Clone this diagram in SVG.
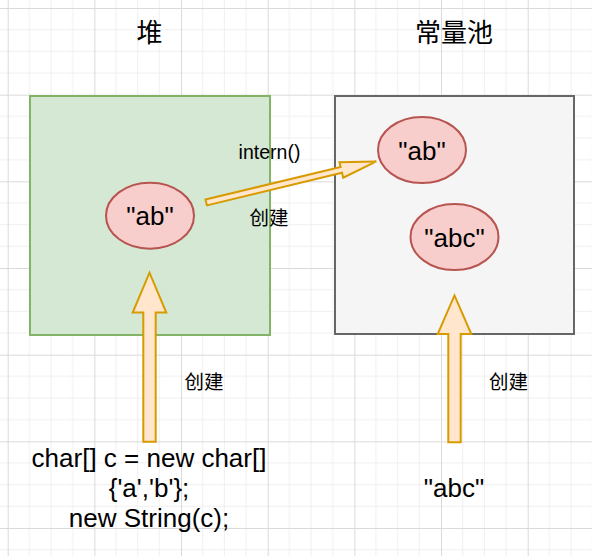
<svg xmlns="http://www.w3.org/2000/svg" width="592" height="556" viewBox="0 0 592 556">
<style>
.t{font-family:"Liberation Sans",Arial,"Noto Sans CJK SC",sans-serif;fill:#000;text-anchor:middle}
.cjk{font-family:"Noto Sans CJK SC","Liberation Sans",sans-serif;fill:#000;text-anchor:middle}
.ell{fill:#f8cecc;stroke:#b85450;stroke-width:2}
.arr{fill:#ffe6cc;stroke:#d79b00;stroke-width:2}
</style>
<defs>
<pattern id="grid" patternUnits="userSpaceOnUse" x="7.7" y="8" width="86.667" height="86.667">
<path d="M21.667,0V86.667M43.333,0V86.667M65,0V86.667M0,21.667H86.667M0,43.333H86.667M0,65H86.667" stroke="#efefef" stroke-width="1" fill="none"/>
<path d="M0.5,0V86.667M0,0.5H86.667" stroke="#dadada" stroke-width="1" fill="none"/>
</pattern>
</defs>
<rect width="592" height="556" fill="#ffffff"/>
<rect width="592" height="556" fill="url(#grid)"/>

<g id="title-heap"><text class="cjk" x="149.5" y="42" font-size="26">堆</text></g>
<g id="title-pool"><text class="cjk" x="454" y="42" font-size="26">常量池</text></g>

<g id="heap"><rect x="30" y="96" width="240" height="239" fill="#d5e8d4" stroke="#82b366" stroke-width="2"/></g>
<g id="pool"><rect x="335" y="96" width="239" height="238" fill="#f5f5f5" stroke="#666666" stroke-width="2"/></g>

<g id="heap-ab"><ellipse class="ell" cx="150" cy="215.7" rx="44" ry="33"/><text class="t" x="150" y="225.3" font-size="26">"ab"</text></g>
<g id="pool-ab"><ellipse class="ell" cx="422" cy="150" rx="44" ry="33"/><text class="t" x="422" y="159.5" font-size="26">"ab"</text></g>
<g id="pool-abc"><ellipse class="ell" cx="454.5" cy="237" rx="44" ry="33"/><text class="t" x="454.5" y="246.5" font-size="26">"abc"</text></g>

<g id="code"><text class="t" font-size="26"><tspan x="149" y="467">char[] c = new char[]</tspan><tspan x="149" y="497">{'a','b'};</tspan><tspan x="149" y="527">new String(c);</tspan></text></g>
<g id="literal"><text class="t" x="454" y="497" font-size="26">"abc"</text></g>

<g id="connectors">
<path class="arr" d="M143.3,441.7L143.3,312.5L132.7,312.5L149.5,272.7L166.3,312.5L155.7,312.5L155.7,441.7Z"/>
<path class="arr" d="M448.3,442.3L448.3,334L437.7,334L454.5,295.4L471.3,334L460.7,334L460.7,442.3Z"/>
<g transform="translate(206.2,202.5) rotate(-13.56)"><path class="arr" d="M0,-3L139,-3L139,-8L175,0L139,8L139,3L0,3Z"/></g>
<text class="t" x="269.5" y="159.3" font-size="19.5">intern()</text>
<text class="cjk" x="269" y="225.4" font-size="19.5">创建</text>
<text class="cjk" x="204" y="389.4" font-size="19.5">创建</text>
<text class="cjk" x="508.5" y="389.4" font-size="19.5">创建</text>
</g>
</svg>
